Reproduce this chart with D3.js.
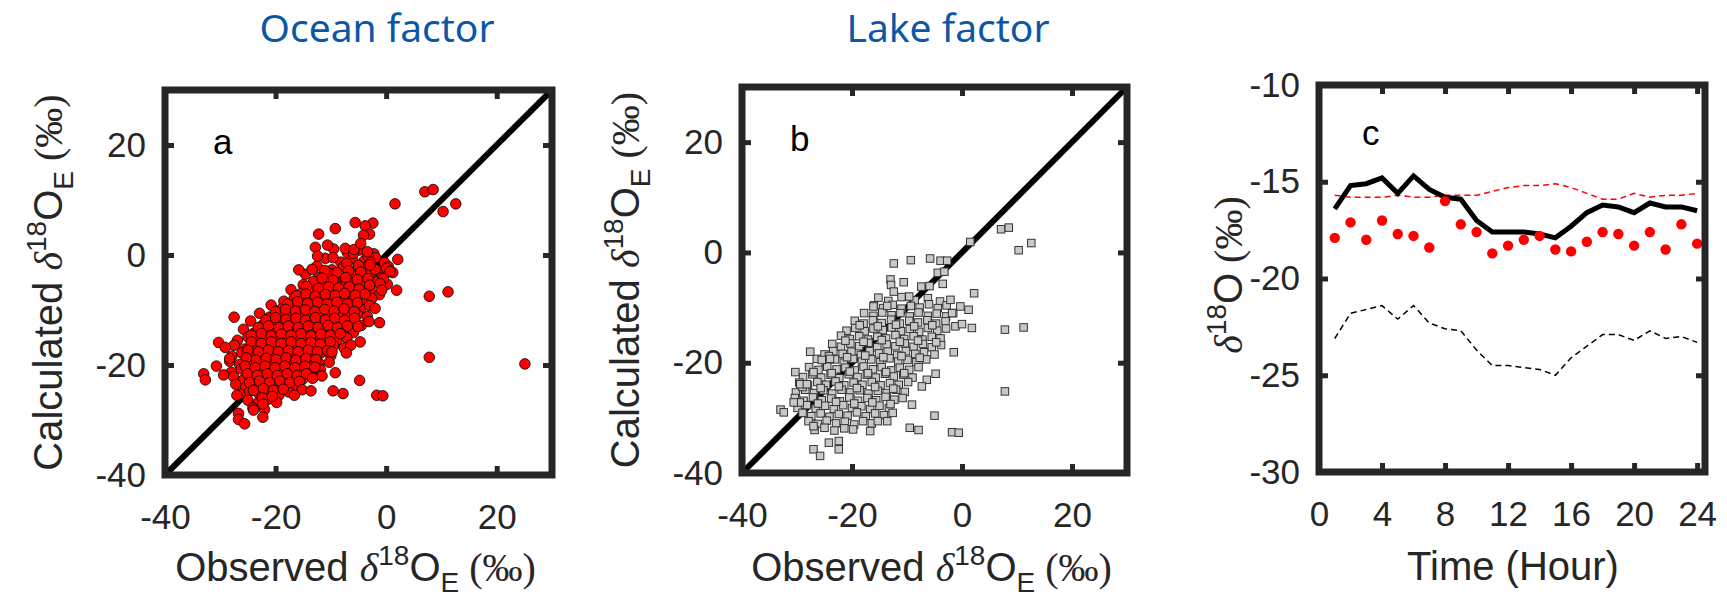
<!DOCTYPE html>
<html>
<head>
<meta charset="utf-8">
<script src="https://cdn.jsdelivr.net/npm/d3@7"></script>
<style>
  body { margin: 0; background: #fff; }
  svg { display: block; }
</style>
</head>
<body>
<svg id="fig" width="1727" height="613"></svg>
<script>
// panel a: [observed, calculated] d18O_E, ocean factor
const oceanPoints = [
  [-9.5,1.1],[-7.0,0.4],[-4.8,0.9],[-2.2,0.2],
  [-11.0,-0.6],[-8.2,-1.3],[-6.1,-0.7],[-4.0,-1.1],[-1.9,-0.5],[-0.3,-1.4],
  [-12.5,-2.0],[-9.8,-2.7],[-7.7,-2.1],[-5.5,-2.8],[-3.6,-2.2],[-1.5,-2.9],[0.4,-2.1],
  [-14.6,-3.5],[-12.2,-4.1],[-10.0,-3.4],[-8.4,-4.3],[-6.3,-3.6],[-4.5,-4.0],[-2.7,-3.3],[-0.9,-4.2],
  [-15.0,-5.4],[-13.1,-4.8],[-11.3,-5.5],[-9.2,-4.9],[-7.5,-5.6],[-5.8,-5.0],[-3.9,-5.7],[-1.8,-4.9],[0.2,-5.3],
  [-17.2,-6.3],[-15.4,-7.0],[-13.6,-6.4],[-11.9,-6.9],[-10.1,-6.2],[-8.3,-7.1],[-6.6,-6.5],[-4.8,-6.9],[-2.9,-6.3],[-1.2,-7.2],
  [-18.5,-8.4],[-16.6,-7.7],[-14.9,-8.3],[-13.0,-7.6],[-11.4,-8.5],[-9.5,-7.8],[-7.7,-8.2],[-5.9,-7.5],[-4.1,-8.4],[-2.6,-7.9],
  [-20.8,-9.1],[-18.9,-9.8],[-17.0,-9.2],[-15.3,-9.9],[-13.5,-9.0],[-11.8,-9.7],[-10.0,-9.3],[-8.3,-10.0],[-6.4,-9.1],[-4.6,-9.8],[-3.0,-9.2],
  [-22.9,-10.6],[-21.1,-11.3],[-19.3,-10.5],[-17.6,-11.2],[-15.7,-10.7],[-14.0,-11.4],[-12.2,-10.6],[-10.5,-11.1],[-8.7,-10.5],[-6.9,-11.3],[-5.2,-10.8],[-3.4,-11.2],
  [-24.5,-12.0],[-22.3,-12.7],[-20.5,-12.1],[-18.6,-12.6],[-16.9,-11.9],[-15.1,-12.8],[-13.4,-12.2],[-11.6,-12.7],[-9.8,-12.0],[-8.0,-12.5],[-6.3,-12.1],[-4.5,-12.8],
  [-25.8,-13.5],[-23.9,-14.2],[-22.0,-13.6],[-20.2,-14.1],[-18.4,-13.4],[-16.5,-14.3],[-14.8,-13.7],[-13.0,-14.0],[-11.2,-13.3],[-9.4,-14.2],[-7.7,-13.6],[-5.9,-14.1],
  [-26.9,-15.5],[-25.0,-14.9],[-23.2,-15.6],[-21.4,-15.0],[-19.6,-15.7],[-17.8,-14.9],[-16.0,-15.4],[-14.2,-15.0],[-12.5,-15.6],[-10.7,-14.8],[-8.9,-15.5],[-7.1,-15.1],
  [-27.5,-16.4],[-25.6,-17.1],[-23.8,-16.5],[-22.0,-17.0],[-20.1,-16.3],[-18.3,-17.2],[-16.6,-16.6],[-14.8,-17.0],[-13.0,-16.2],[-11.3,-17.1],[-9.5,-16.5],[-7.6,-16.9],
  [-27.9,-18.4],[-26.1,-17.8],[-24.3,-18.5],[-22.5,-17.9],[-20.6,-18.3],[-18.9,-17.7],[-17.0,-18.6],[-15.3,-17.9],[-13.4,-18.4],[-11.8,-17.8],[-10.0,-18.3],
  [-28.3,-19.3],[-26.5,-19.9],[-24.6,-19.2],[-22.9,-19.8],[-21.0,-19.4],[-19.2,-20.0],[-17.5,-19.3],[-15.7,-19.9],[-13.9,-19.2],[-12.1,-19.7],[-10.3,-19.5],
  [-28.0,-21.3],[-26.2,-20.7],[-24.4,-21.4],[-22.6,-20.8],[-20.8,-21.2],[-19.0,-20.6],[-17.2,-21.3],[-15.4,-20.7],[-13.6,-21.1],[-11.9,-20.8],
  [-27.6,-22.1],[-25.8,-22.7],[-24.0,-22.0],[-22.2,-22.6],[-20.4,-22.2],[-18.6,-22.8],[-16.8,-22.1],[-15.1,-22.6],[-13.2,-22.3],
  [-27.2,-23.5],[-25.4,-24.1],[-23.5,-23.6],[-21.7,-24.0],[-19.9,-23.4],[-18.1,-24.2],[-16.4,-23.7],
  [-26.4,-25.3],[-24.7,-24.8],[-22.9,-25.4],[-21.1,-24.9],[-19.4,-25.5],[-17.6,-24.9],
  [-25.0,-26.4],[-23.2,-26.9],[-21.5,-26.3],[-19.8,-26.8],
  [-24.1,-27.8],[-22.0,-28.1],
  [-5.9,0.3],[-3.3,-0.2],
  [-7.1,-1.5],[-5.0,-1.9],[-2.8,-1.4],
  [-11.1,-2.8],[-8.9,-3.2],[-6.8,-2.9],[-4.6,-3.1],[-2.0,-2.6],
  [-11.6,-4.2],[-9.6,-4.6],[-7.3,-4.1],[-5.2,-4.5],[-3.3,-4.3],
  [-14.4,-5.7],[-12.3,-6.1],[-10.4,-5.8],[-8.6,-6.0],[-6.7,-5.8],[-4.9,-6.2],[-3.0,-5.5],
  [-16.2,-7.4],[-14.5,-7.1],[-12.8,-7.5],[-11.0,-7.2],[-9.2,-7.4],[-7.5,-7.0],[-5.6,-7.3],[-3.8,-7.1],
  [-17.8,-8.9],[-16.0,-8.5],[-14.2,-8.8],[-12.4,-8.6],[-10.7,-8.9],[-8.9,-8.6],[-7.0,-8.9],[-5.2,-8.7],
  [-20.0,-10.3],[-18.2,-9.9],[-16.4,-10.2],[-14.6,-10.0],[-12.9,-10.3],[-11.1,-9.9],[-9.4,-10.2],[-7.6,-9.8],[-5.8,-10.3],
  [-21.7,-11.8],[-20.0,-11.4],[-18.1,-11.7],[-16.3,-11.5],[-14.6,-11.9],[-12.8,-11.4],[-11.0,-11.8],[-9.3,-11.5],[-7.5,-11.9],[-5.7,-11.5],
  [-23.1,-13.2],[-21.3,-12.9],[-19.4,-13.2],[-17.7,-12.9],[-15.9,-13.2],[-14.1,-12.9],[-12.3,-13.2],[-10.5,-12.8],[-8.8,-13.2],[-7.0,-12.9],
  [-24.4,-14.6],[-22.6,-14.3],[-20.8,-14.7],[-19.0,-14.4],[-17.2,-14.6],[-15.4,-14.3],[-13.6,-14.7],[-11.8,-14.4],[-10.1,-14.6],[-8.3,-14.3],
  [-24.4,-15.8],[-22.6,-16.1],[-20.8,-15.8],[-19.0,-16.1],[-17.2,-15.8],[-15.4,-16.1],[-13.6,-15.9],[-11.9,-16.2],[-10.1,-15.8],
  [-25.0,-17.3],[-23.1,-17.6],[-21.3,-17.3],[-19.5,-17.6],[-17.7,-17.4],[-15.9,-17.6],[-14.1,-17.3],[-12.4,-17.6],[-10.6,-17.4],
  [-25.3,-18.7],[-23.5,-19.1],[-21.7,-18.8],[-19.9,-19.0],[-18.1,-18.7],[-16.3,-19.1],[-14.5,-18.8],[-12.7,-19.0],
  [-25.5,-20.2],[-23.7,-20.5],[-21.9,-20.2],[-20.1,-20.5],[-18.3,-20.2],[-16.5,-20.5],[-14.7,-20.2],[-12.9,-20.4],
  [-25.1,-21.6],[-23.3,-21.9],[-21.5,-21.6],[-19.7,-21.9],[-17.9,-21.6],[-16.1,-21.9],[-14.4,-21.6],
  [-24.7,-23.2],[-22.9,-22.9],[-21.1,-23.2],[-19.2,-22.9],[-17.4,-23.2],[-15.7,-23.0],
  [-24.0,-24.6],[-22.2,-24.3],[-20.4,-24.6],[-18.6,-24.4],
  [-22.4,-26.0],[-20.6,-25.7],
  [7.0,11.5],[8.5,11.9],[1.6,9.3],[12.6,9.3],[10.3,7.9],[7.8,-7.5],[11.2,-6.7],[7.8,-18.6],[25.1,-19.8],
  [-1.7,-25.5],[-0.6,-25.6],[-4.8,-22.8],[-7.8,-25.2],[-9.6,-24.7],[-9.2,-21.4],
  [-12.2,3.8],[-9.2,4.8],[-5.6,5.9],[-2.4,5.8],[-3.8,5.3],[-3.0,3.8],[-4.1,3.6],
  [-12.8,1.4],[-10.6,1.8],[-7.4,1.2],[-5.8,1.0],[-4.6,2.1],[-3.4,0.6],[-9.6,-0.5],[-12.4,-0.2],
  [2.1,-0.8],[0.1,-2.4],[1.2,-3.2],[1.9,-6.4],[-0.5,-4.3],[-1.1,-5.2],[-0.8,-6.4],[-2.9,-1.8],[0.7,-3.0],
  [-15.8,-2.7],[-13.4,-2.6],[-27.5,-11.3],[-30.3,-15.9],[-30.7,-20.2],[-33.0,-21.6],[-32.7,-22.7],
  [-29.1,-16.8],[-28.3,-18.8],[-29.4,-21.8],[-26.7,-28.8],[-26.7,-29.9],[-25.6,-30.7],[-24.0,-28.2],
  [-22.3,-29.5],[-22.3,-27.1],[-27.0,-25.5],[-15.2,-24.5],[-13.6,-24.7],[-16.6,-25.5],[-11.6,-22.0],
  [-13.3,-22.4],[-4.7,-15.8],[-6.4,-16.4],[-7.2,-17.8],[-9.8,-17.6],[-1.2,-12.3],[-3.1,-12.1],
  [-5.1,-13.0],[-2.0,-9.7]
];

// panel b: [observed, calculated] d18O_E, lake factor
const lakePoints = [
  [-15.2,-8.2],[-13.4,-8.8],[-11.0,-8.1],[-8.6,-8.7],[-6.2,-8.3],[-4.0,-8.9],
  [-16.0,-9.6],[-14.3,-10.1],[-12.6,-9.5],[-11.0,-10.2],[-9.3,-9.7],[-7.7,-10.0],[-6.0,-9.4],[-4.4,-10.1],[-2.8,-9.6],
  [-17.8,-11.0],[-16.1,-11.5],[-14.5,-10.9],[-12.8,-11.4],[-11.2,-11.0],[-9.5,-11.6],[-7.9,-10.9],[-6.2,-11.5],[-4.6,-11.1],[-2.9,-11.6],[-1.6,-11.0],
  [-19.5,-12.4],[-17.9,-12.9],[-16.2,-12.3],[-14.6,-12.8],[-12.9,-12.2],[-11.3,-12.9],[-9.6,-12.4],[-8.0,-12.7],[-6.3,-12.3],[-4.7,-12.9],[-3.0,-12.5],
  [-21.0,-14.2],[-19.4,-13.7],[-17.7,-14.3],[-16.1,-13.8],[-14.4,-14.1],[-12.8,-13.6],[-11.1,-14.3],[-9.5,-13.9],[-7.8,-14.4],[-6.2,-13.7],[-4.5,-14.2],[-2.9,-13.8],
  [-22.0,-15.1],[-20.4,-15.7],[-18.7,-15.2],[-17.1,-15.8],[-15.4,-15.3],[-13.8,-15.6],[-12.1,-15.0],[-10.5,-15.7],[-8.8,-15.2],[-7.2,-15.8],[-5.5,-15.3],[-3.9,-15.6],
  [-23.6,-16.6],[-22.0,-17.1],[-20.3,-16.5],[-18.7,-17.0],[-17.0,-16.4],[-15.4,-17.2],[-13.7,-16.7],[-12.1,-17.0],[-10.4,-16.5],[-8.8,-17.1],[-7.1,-16.6],[-5.5,-17.2],[-3.8,-16.8],
  [-25.0,-18.5],[-23.4,-17.9],[-21.7,-18.4],[-20.1,-18.0],[-18.4,-18.6],[-16.8,-17.9],[-15.1,-18.3],[-13.5,-18.0],[-11.8,-18.6],[-10.2,-17.9],[-8.5,-18.4],[-6.9,-18.1],[-5.0,-18.5],
  [-26.4,-19.3],[-24.8,-19.9],[-23.1,-19.4],[-21.5,-20.0],[-19.8,-19.3],[-18.2,-19.8],[-16.5,-19.4],[-14.9,-19.9],[-13.2,-19.2],[-11.6,-19.8],[-9.9,-19.5],[-8.3,-19.9],[-6.5,-19.4],
  [-27.8,-20.8],[-26.1,-21.3],[-24.5,-20.7],[-22.8,-21.2],[-21.2,-20.9],[-19.5,-21.4],[-17.9,-20.7],[-16.2,-21.2],[-14.6,-20.8],[-12.9,-21.4],[-11.3,-20.9],[-9.6,-21.3],[-7.9,-20.8],
  [-28.9,-22.6],[-27.2,-22.1],[-25.6,-22.7],[-23.9,-22.2],[-22.3,-22.8],[-20.6,-22.1],[-19.0,-22.6],[-17.3,-22.2],[-15.7,-22.7],[-14.0,-22.0],[-12.4,-22.5],[-10.7,-22.2],[-9.0,-22.7],
  [-29.6,-23.6],[-28.0,-24.1],[-26.3,-23.5],[-24.7,-24.0],[-23.0,-23.4],[-21.4,-24.1],[-19.7,-23.6],[-18.1,-24.0],[-16.4,-23.5],[-14.8,-24.1],[-13.1,-23.7],[-11.5,-24.0],[-9.8,-23.5],
  [-30.2,-25.4],[-28.5,-24.9],[-26.9,-25.5],[-25.2,-25.0],[-23.6,-25.6],[-21.9,-24.9],[-20.3,-25.4],[-18.6,-25.0],[-17.0,-25.6],[-15.3,-25.1],[-13.7,-25.5],[-12.0,-24.9],[-10.4,-25.3],
  [-30.4,-26.4],[-28.8,-26.9],[-27.1,-26.3],[-25.5,-26.8],[-23.8,-26.5],[-22.2,-27.0],[-20.5,-26.3],[-18.9,-26.9],[-17.2,-26.4],[-15.6,-26.8],[-13.9,-26.2],[-12.3,-26.7],[-10.8,-26.4],
  [-29.9,-28.2],[-28.2,-27.7],[-26.6,-28.3],[-24.9,-27.8],[-23.3,-28.4],[-21.6,-27.7],[-20.0,-28.2],[-18.3,-27.9],[-16.7,-28.4],[-15.0,-27.8],[-13.3,-28.2],
  [-29.0,-29.1],[-27.4,-29.7],[-25.7,-29.2],[-24.1,-29.8],[-22.4,-29.3],[-20.8,-29.6],[-19.1,-29.0],[-17.5,-29.7],[-15.8,-29.2],[-14.2,-29.5],[-12.6,-29.1],
  [-27.9,-30.6],[-26.2,-31.1],[-24.6,-30.5],[-22.9,-31.0],[-21.3,-30.7],[-19.6,-31.2],[-18.0,-30.6],[-16.4,-31.0],
  [-26.8,-32.2],[-25.0,-31.8],[-23.2,-32.3],[-21.4,-31.9],[-19.8,-32.1],
  [-18.6,-13.2],[-15.3,-13.4],[-12.0,-13.1],[-8.7,-13.4],[-5.4,-13.2],
  [-21.2,-16.0],[-17.9,-16.2],[-14.6,-15.9],[-11.3,-16.2],[-8.0,-16.0],[-4.7,-16.3],
  [-24.2,-18.8],[-20.9,-19.0],[-17.6,-18.7],[-14.3,-19.0],[-11.0,-18.8],[-7.7,-19.1],
  [-27.0,-21.7],[-23.7,-21.9],[-20.4,-21.6],[-17.1,-21.9],[-13.8,-21.7],[-10.5,-21.9],
  [-29.0,-24.4],[-25.7,-24.6],[-22.4,-24.3],[-19.1,-24.6],[-15.8,-24.4],[-12.5,-24.7],
  [-29.5,-27.2],[-26.2,-27.4],[-22.9,-27.1],[-19.6,-27.4],[-16.3,-27.2],[-13.0,-27.5],
  [1.5,1.9],[7.1,4.2],[8.5,4.5],[10.3,0.4],[12.6,1.7],[2.2,-7.4],[7.8,-14.0],[11.2,-13.6],[7.8,-25.2],
  [1.8,-13.7],[1.2,-10.4],[-1.5,-18.1],[-4.8,-22.0],[-6.4,-23.1],[-7.3,-24.3],[-5.0,-29.6],[-1.8,-32.6],
  [-0.6,-32.7],[-9.5,-31.8],[-7.9,-32.2],[-9.1,-27.6],[-15.3,-30.6],[-13.6,-30.6],[-16.7,-32.4],
  [-12.4,-2.0],[-9.3,-1.4],[-5.8,-1.1],[-3.9,-1.5],[-2.7,-1.5],[-13.0,-4.9],[-12.9,-5.9],[-12.4,-7.1],
  [-10.6,-5.4],[-7.4,-6.2],[-5.9,-6.1],[-4.4,-3.7],[-3.2,-3.5],[-3.5,-5.7],[-9.6,-8.0],[-16.1,-9.8],
  [-13.6,-9.7],[-27.6,-18.0],[-30.3,-21.7],[-29.4,-23.9],[-28.2,-23.9],[-30.6,-27.2],[-33.0,-28.5],
  [-32.4,-29.0],[-27.0,-31.5],[-27.0,-35.7],[-25.8,-36.9],[-24.2,-34.5],[-22.4,-34.2],[-22.4,-35.7],
  [-25.5,-19.5],[-24.0,-19.3],[-1.2,-13.4],[0.0,-13.0],[-0.3,-9.8],[-1.8,-11.0],[-2.1,-8.6]
];

// panel c: hourly d18O
const hours = [1,2,3,4,5,6,7,8,9,10,11,12,13,14,15,16,17,18,19,20,21,22,23,24];
const calculatedE = [-16.4,-15.2,-15.1,-14.8,-15.6,-14.7,-15.4,-15.8,-15.9,-17.0,-17.6,-17.6,-17.6,-17.7,-17.9,-17.3,-16.6,-16.2,-16.3,-16.6,-16.1,-16.3,-16.3,-16.5];
const observedE = [-17.9,-17.1,-18.0,-17.0,-17.7,-17.8,-18.4,-16.0,-17.2,-17.6,-18.7,-18.3,-18.0,-17.8,-18.5,-18.6,-18.1,-17.6,-17.7,-18.3,-17.6,-18.5,-17.2,-18.2];
const oceanCase = [-15.7,-15.8,-15.8,-15.8,-15.7,-15.8,-15.8,-15.7,-15.7,-15.7,-15.5,-15.3,-15.2,-15.2,-15.1,-15.3,-15.6,-15.9,-15.9,-15.6,-15.8,-15.7,-15.7,-15.6];
const lakeCase = [-23.1,-21.8,-21.6,-21.4,-22.1,-21.4,-22.3,-22.6,-22.7,-23.7,-24.5,-24.5,-24.6,-24.7,-25.0,-24.1,-23.5,-22.9,-22.9,-23.2,-22.7,-23.1,-23.0,-23.3];

const scatterTicks = [-40, -20, 0, 20];
const hourTicks = [0, 4, 8, 12, 16, 20, 24];
const d18OTicks = [-30, -25, -20, -15, -10];

const axisColor = '#262626';
const sans = '"Liberation Sans", Arial, sans-serif';
const serif = '"Liberation Serif", "Times New Roman", serif';

const svg = d3.select('#fig');

// MATLAB-like box with inward ticks on all four sides
function drawBox(g, x, y, xt, yt) {
    const [x0, x1] = x.range();
    const [y0, y1] = y.range();
    const tl = 9;
    const plain = d => String(d);   // hyphen minus, like the source figure

    g.append('g').attr('transform', `translate(0,${y0})`)
        .call(d3.axisBottom(x).tickValues(xt).tickFormat(plain).tickSizeInner(-tl).tickSizeOuter(0).tickPadding(29));
    g.append('g').attr('transform', `translate(0,${y1})`)
        .call(d3.axisTop(x).tickValues(xt).tickSizeInner(-tl).tickSizeOuter(0).tickFormat(''));
    g.append('g').attr('transform', `translate(${x0},0)`)
        .call(d3.axisLeft(y).tickValues(yt).tickFormat(plain).tickSizeInner(-tl).tickSizeOuter(0).tickPadding(19));
    g.append('g').attr('transform', `translate(${x1},0)`)
        .call(d3.axisRight(y).tickValues(yt).tickSizeInner(-tl).tickSizeOuter(0).tickFormat(''));

    g.selectAll('.domain').remove();
    g.selectAll('.tick line').attr('stroke', axisColor).attr('stroke-width', 5);
    g.selectAll('.tick text')
        .attr('fill', axisColor)
        .style('font-family', sans)
        .style('font-size', '35px');

    g.append('rect')
        .attr('x', x0).attr('y', y1)
        .attr('width', x1 - x0).attr('height', y0 - y1)
        .attr('fill', 'none')
        .attr('stroke', axisColor)
        .attr('stroke-width', 7);
}

// delta label: prefix, delta, superscript 18, O, optional subscript, (‰)
function deltaLabel(t, prefix, sub) {
    t.style('font-family', sans).style('font-size', '40px').attr('fill', axisColor);
    if (prefix) t.append('tspan').text(prefix);
    t.append('tspan').style('font-family', serif).style('font-style', 'italic').text('δ');
    t.append('tspan').attr('dy', -16).style('font-size', '28px').text('18');
    t.append('tspan').attr('dy', 16).text('O');
    let back = 0;
    if (sub) {
        t.append('tspan').attr('dy', 11).style('font-size', '28px').text(sub);
        back = -11;
    }
    t.append('tspan').attr('dy', back).style('font-family', serif).text('\u00a0(‰)');
}

function drawScatter(cfg) {
    const x = d3.scaleLinear().domain([-40, 30]).range([cfg.left, cfg.right]);
    const y = d3.scaleLinear().domain([-40, 30]).range([cfg.bottom, cfg.top]);
    const g = svg.append('g');

    // 1:1 line
    g.append('line')
        .attr('x1', x(-40)).attr('y1', y(-40))
        .attr('x2', x(30)).attr('y2', y(30))
        .attr('stroke', '#000').attr('stroke-width', 6);

    if (cfg.marker === 'circle') {
        g.append('g').selectAll('circle').data(cfg.points).join('circle')
            .attr('cx', d => x(d[0])).attr('cy', d => y(d[1]))
            .attr('r', 5.3)
            .attr('fill', '#ff0000')
            .attr('stroke', '#000')
            .attr('stroke-width', 0.8);
    } else {
        const s = 7.5;
        g.append('g').selectAll('rect').data(cfg.points).join('rect')
            .attr('x', d => x(d[0]) - s / 2).attr('y', d => y(d[1]) - s / 2)
            .attr('width', s).attr('height', s)
            .attr('fill', '#c8c8c8')
            .attr('stroke', '#333')
            .attr('stroke-width', 1);
    }

    drawBox(g, x, y, scatterTicks, scatterTicks);

    g.append('text')
        .attr('x', cfg.left + 48).attr('y', cfg.top + 64)
        .style('font-family', sans).style('font-size', '35px')
        .text(cfg.letter);

    g.append('text')
        .attr('x', cfg.titleX).attr('y', 42)
        .attr('text-anchor', 'middle')
        .attr('fill', '#0b57a6')
        .style('font-family', '"Noto Sans", sans-serif')
        .style('font-size', '39px')
        .text(cfg.title);

    g.append('text')
        .attr('x', (cfg.left + cfg.right) / 2 - 3).attr('y', 581)
        .attr('text-anchor', 'middle')
        .call(deltaLabel, 'Observed ', 'E');

    g.append('text')
        .attr('transform', `translate(${cfg.left - 103},${(cfg.top + cfg.bottom) / 2})rotate(-90)`)
        .attr('text-anchor', 'middle')
        .call(deltaLabel, 'Calculated ', 'E');
}

drawScatter({ left: 165, right: 552, top: 90, bottom: 475, points: oceanPoints,
    marker: 'circle', letter: 'a', title: 'Ocean factor', titleX: 377 });
drawScatter({ left: 742, right: 1127, top: 87, bottom: 473, points: lakePoints,
    marker: 'square', letter: 'b', title: 'Lake factor', titleX: 948 });

// panel c
{
    const x = d3.scaleLinear().domain([0, 24.5]).range([1319, 1705]);
    const y = d3.scaleLinear().domain([-30, -10]).range([472, 85]);
    const g = svg.append('g');
    const line = d3.line().x((d, i) => x(hours[i])).y(d => y(d));

    g.append('path').datum(oceanCase)
        .attr('d', line).attr('fill', 'none')
        .attr('stroke', '#ff0000').attr('stroke-width', 1.5)
        .attr('stroke-dasharray', '6,4');
    g.append('path').datum(lakeCase)
        .attr('d', line).attr('fill', 'none')
        .attr('stroke', '#000').attr('stroke-width', 1.5)
        .attr('stroke-dasharray', '6,4');
    g.append('path').datum(calculatedE)
        .attr('d', line).attr('fill', 'none')
        .attr('stroke', '#000').attr('stroke-width', 5)
        .attr('stroke-linejoin', 'miter');
    g.append('g').selectAll('circle').data(observedE).join('circle')
        .attr('cx', (d, i) => x(hours[i])).attr('cy', d => y(d))
        .attr('r', 5.2).attr('fill', '#ff0000');

    drawBox(g, x, y, hourTicks, d18OTicks);

    g.append('text')
        .attr('x', 1362).attr('y', 145)
        .style('font-family', sans).style('font-size', '35px')
        .text('c');

    g.append('text')
        .attr('x', 1513).attr('y', 580)
        .attr('text-anchor', 'middle')
        .attr('fill', axisColor)
        .style('font-family', sans).style('font-size', '40px')
        .text('Time (Hour)');

    g.append('text')
        .attr('transform', 'translate(1242,275)rotate(-90)')
        .attr('text-anchor', 'middle')
        .call(deltaLabel, '', null);
}
</script>
</body>
</html>
